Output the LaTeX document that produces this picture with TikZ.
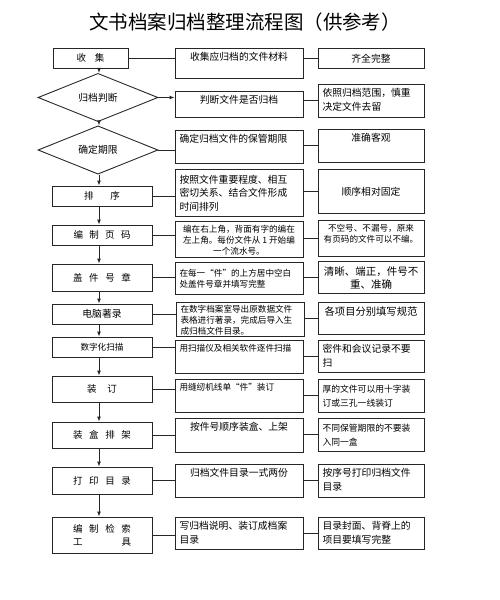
\documentclass[tikz,border=0pt]{standalone}
\usepackage{fontspec}
\setmainfont{Noto Sans CJK SC}
\usetikzlibrary{shapes.geometric, arrows.meta}

\newcommand{\fnorm}{\fontsize{9.8}{13.5}\selectfont}
\newcommand{\fsmall}{\fontsize{8.6}{11}\selectfont}
\newcommand{\fwide}{\fontsize{8.8}{13.5}\selectfont}
\newcommand{\midtxt}[3][t]{\parbox[c][#2pt][#1]{119pt}{\vspace{1.5pt}#3}}
\newcommand{\rgttxt}[3][t]{\parbox[c][#2pt][#1]{97pt}{\vspace{1.5pt}#3}}

\tikzset{
  box/.style={draw=black!85, line width=0.9pt, inner xsep=4.5pt, inner ysep=3pt, font=\fnorm},
  lbox/.style={draw=black!85, line width=0.9pt, inner sep=0pt, minimum width=100pt, align=center, font=\fontsize{9.5}{13}\selectfont},
  judge/.style={diamond, draw=black!85, line width=0.9pt, inner sep=0pt, minimum width=120pt, font=\fnorm},
  link/.style={draw=black!85, line width=0.9pt},
  flow/.style={link, -{Latex[length=5pt,width=4pt]}}
}

\begin{document}
\begin{tikzpicture}[x=1pt, y=-1pt]

    \useasboundingbox (0,0) rectangle (500,600);

    % Title
    \node[font=\fontsize{19.5}{22}\selectfont] (title) at (245,22) {文书档案归档整理流程图（供参考）};

    % Spine of the flow
    \coordinate (spine) at (99,0);

    % Steps (left column)
    \node[lbox, minimum width=75pt, minimum height=20pt] (l1) at (90.5,58) {\makebox[28pt]{收\hfill 集}};
    \node[judge, minimum height=31pt] (l2) at (98,97.5) {归档判断};
    \node[judge, minimum height=34pt] (l3) at (98,150) {确定期限};
    \node[lbox, minimum height=20pt] (l4) at (102,196) {\makebox[36pt]{排\hfill 序}};
    \node[lbox, minimum height=20pt] (l5) at (102,235) {\makebox[57pt]{编\hfill 制\hfill 页\hfill 码}};
    \node[lbox, minimum height=27pt] (l6) at (102,277.5) {\makebox[58pt]{盖\hfill 件\hfill 号\hfill 章}};
    \node[lbox, minimum height=20pt, font=\fnorm] (l7) at (102,314) {电脑著录};
    \node[lbox, minimum height=20pt, font=\fsmall] (l8) at (102,347) {数字化扫描};
    \node[lbox, minimum height=26pt] (l9) at (102,389) {\makebox[30pt]{装\hfill 订}};
    \node[lbox, minimum height=26pt] (l10) at (102,435) {\makebox[58pt]{装\hfill 盒\hfill 排\hfill 架}};
    \node[lbox, minimum height=27pt] (l11) at (102,480.5) {\makebox[58pt]{打\hfill 印\hfill 目\hfill 录}};
    \node[lbox, minimum height=36pt] (l12) at (102,535) {\makebox[58pt]{编\hfill 制\hfill 检\hfill 索}\\\makebox[58pt]{工\hfill 具}};

    % Contents (middle column)
    \node[box] (m1) at (239,63) {\midtxt{24}{\centering 收集应归档的文件材料}};
    \node[box] (m2) at (239,104) {\midtxt{20}{\centering 判断文件是否归档}};
    \node[box] (m3) at (239,146.5) {\midtxt{27}{确定归档文件的保管期限}};
    \node[box] (m4) at (239,192.5) {\midtxt[c]{41}{按照文件重要程度、相互\\密切关系、结合文件形成\\时间排列}};
    \node[box, font=\fsmall] (m5) at (239,239) {\midtxt{30}{\centering 编在右上角，背面有字的编在\\左上角。每份文件从 1 开始编\\一个流水号。}};
    \node[box, font=\fsmall] (m6) at (239,278) {\midtxt[c]{26}{在每一“件”的上方居中空白\\处盖件号章并填写完整}};
    \node[box, font=\fsmall] (m7) at (240,319) {\midtxt[c]{28}{在数字档案室导出原数据文件\\表格进行著录，完成后导入生\\成归档文件目录。}};
    \node[box, font=\fsmall] (m8) at (239,356.5) {\midtxt{27}{用扫描仪及相关软件逐件扫描}};
    \node[box, font=\fsmall] (m9) at (239,395.5) {\midtxt{27}{用缝纫机线单“件”装订}};
    \node[box] (m10) at (239,435) {\midtxt{28}{\centering 按件号顺序装盒、上架}};
    \node[box] (m11) at (239,480.5) {\midtxt{27}{\centering 归档文件目录一式两份}};
    \node[box] (m12) at (239,533) {\midtxt{26}{写归档说明、装订成档案\\目录}};

    % Requirements (right column)
    \node[box] (r1) at (371,58) {\rgttxt[c]{14}{\centering 齐全完整}};
    \node[box] (r2) at (371,100.5) {\rgttxt{27}{依照归档范围，慎重\\决定文件去留}};
    \node[box] (r3) at (371,145.5) {\rgttxt{27}{\centering 准确客观}};
    \node[box] (r4) at (371,191) {\rgttxt[c]{38}{\centering 顺序相对固定}};
    \node[box, font=\fsmall] (r5) at (371,238) {\rgttxt{30}{\centering 不空号、不漏号，原来\\有页码的文件可以不编。}};
    \node[box, font=\fontsize{10.5}{13}\selectfont] (r6) at (371,277) {\rgttxt[c]{26}{\centering 清晰、端正，件号不\\重、准确}};
    \node[box, font=\fontsize{10.3}{13}\selectfont] (r7) at (371,318) {\rgttxt{26}{\centering 各项目分别填写规范}};
    \node[box] (r8) at (371,356) {\rgttxt{26}{密件和会议记录不要\\扫}};
    \node[box, font=\fwide] (r9) at (371,395.5) {\rgttxt[c]{27}{厚的文件可以用十字装\\订或三孔一线装订}};
    \node[box, font=\fwide] (r10) at (371,434.5) {\rgttxt[c]{27}{不同保管期限的不要装\\入同一盒}};
    \node[box] (r11) at (371,480.5) {\rgttxt{27}{按序号打印归档文件\\目录}};
    \node[box] (r12) at (371,533) {\rgttxt{26}{目录封面、背脊上的\\项目要填写完整}};

    % Flow arrows
    \foreach \a/\b in {1/2, 2/3, 3/4, 4/5, 5/6, 6/7, 7/8, 8/9, 9/10, 10/11, 11/12}
        \draw[flow] (l\a.south -| spine) -- (l\b.north -| spine);

    % Links between columns
    \draw[flow] (l2.east) -- (l2.east -| m2.west);
    \foreach \r in {1, 3, 4, 5, 6, 7, 8, 9, 10, 11, 12}
        \draw[link] (l\r.east) -- (l\r.east -| m\r.west);
    \foreach \r in {1, ..., 12}
        \draw[link] (r\r.west -| m\r.east) -- (r\r.west);

\end{tikzpicture}
\end{document}
